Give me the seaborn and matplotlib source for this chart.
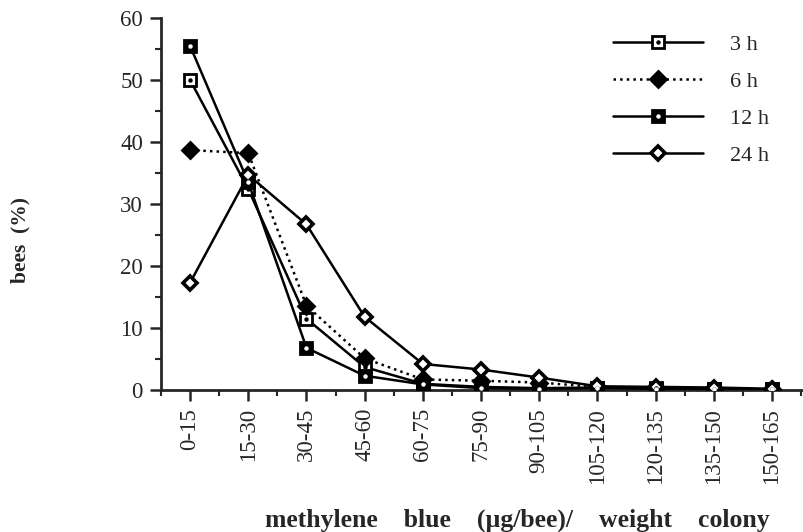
import numpy as np
import pandas as pd
import matplotlib
matplotlib.use('Agg')
import matplotlib.pyplot as plt
import seaborn as sns
from matplotlib.lines import Line2D
from matplotlib.ticker import MultipleLocator

# dose classes on the x axis
categories = ['0-15', '15-30', '30-45', '45-60', '60-75', '75-90', '90-105',
              '105-120', '120-135', '135-150', '150-165']

# % of bees per class
pct_3h = [50.0, 32.4, 11.5, 3.7, 1.0, 0.5, 0.3, 0.4, 0.3, 0.2, 0.1]
pct_6h = [38.7, 38.2, 13.6, 5.1, 1.7, 1.5, 1.2, 0.5, 0.3, 0.2, 0.1]
pct_12h = [55.5, 33.5, 6.8, 2.3, 0.9, 0.3, 0.2, 0.3, 0.2, 0.2, 0.1]
pct_24h = [17.3, 34.7, 26.7, 11.8, 4.2, 3.3, 2.0, 0.6, 0.5, 0.4, 0.2]

series_names = ['3 h', '6 h', '12 h', '24 h']

sns.set_style('ticks')
plt.rcParams['font.family'] = ['Liberation Serif', 'DejaVu Serif']

df = pd.DataFrame({
    'cls': categories * 4,
    'pos': list(np.arange(len(categories))) * 4,
    'pct': pct_3h + pct_6h + pct_12h + pct_24h,
    'series': [s for s in series_names for _ in categories],
})

fig = plt.figure(figsize=(8.04, 5.32), dpi=100)
ax = fig.add_axes([161 / 804, 1 - 390 / 532, 643 / 804, 372 / 532])

lw = 1.8
styles = {
    '3 h': dict(ls='-', marker='s', mfc='white', ms=9, mew=2, dot='black'),
    '6 h': dict(ls=':', marker='D', mfc='black', ms=8.5, mew=2, dot=None),
    '12 h': dict(ls='-', marker='s', mfc='black', ms=9, mew=2, dot='white'),
    '24 h': dict(ls='-', marker='D', mfc='white', ms=7.5, mew=2.6, dot=None),
}

handles = []
for name in series_names:
    st = styles[name]
    sub = df[df['series'] == name]
    sns.lineplot(data=sub, x='pos', y='pct', ax=ax, color='black', linewidth=lw,
                 linestyle=st['ls'], marker=st['marker'], markersize=st['ms'],
                 markerfacecolor=st['mfc'], markeredgecolor='black',
                 markeredgewidth=st['mew'], legend=False, zorder=3)
    h = Line2D([], [], color='black', lw=lw, ls=st['ls'], marker=st['marker'],
               ms=st['ms'], mfc=st['mfc'], mec='black', mew=st['mew'])
    if st['dot'] is not None:
        ax.plot(sub['pos'], sub['pct'], ls='none', marker='o', ms=2.2,
                color=st['dot'], zorder=4)
        h = (h, Line2D([], [], ls='none', marker='o', ms=2.2, color=st['dot']))
    handles.append(h)

ax.set_xlim(-0.5, 10.55)
ax.set_ylim(0, 60)
ax.set_xticks(np.arange(len(categories)))
ax.set_xticklabels(categories, rotation=90, fontsize=16.5)
ax.xaxis.set_minor_locator(MultipleLocator(1, offset=0.5))
ax.yaxis.set_major_locator(MultipleLocator(10))
ax.yaxis.set_minor_locator(MultipleLocator(5))
ax.tick_params(axis='both', which='major', direction='out', length=8, width=1.8,
               labelsize=16.5, pad=5)
ax.tick_params(axis='both', which='minor', direction='out', length=4, width=1.5)
for sp in ['left', 'bottom']:
    ax.spines[sp].set_linewidth(2)
sns.despine(ax=ax)
ax.set_xlabel('')
ax.set_ylabel('')

fig.text(517 / 804, 1 - 520 / 532, 'methylene    blue    (µg/bee)/    weight    colony',
         ha='center', va='center', fontsize=18.5, fontweight='bold')
fig.text(20 / 804, 1 - 240 / 532, 'bees  (%)', rotation=90, ha='center',
         va='center', fontsize=15.5, fontweight='bold')

ax.legend(handles, series_names, loc='upper left',
          bbox_to_anchor=(613 / 804, 1 - 34 / 532), bbox_transform=fig.transFigure,
          frameon=False, fontsize=16, handlelength=4.05, handletextpad=1.2,
          labelspacing=0.75, borderpad=0, borderaxespad=0, numpoints=1)

fig.savefig('out.png', dpi=100)
